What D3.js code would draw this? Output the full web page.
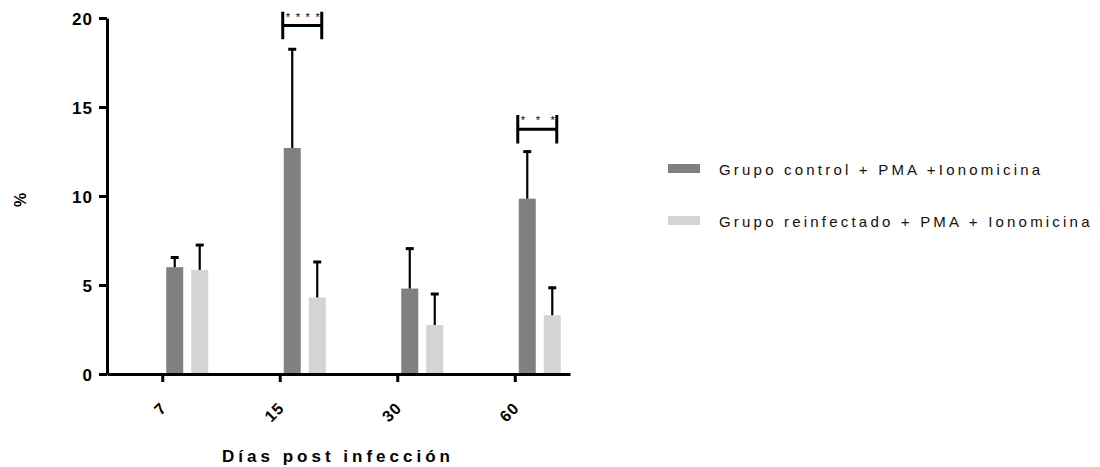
<!DOCTYPE html>
<meta charset="utf-8">
<style>
  body { margin: 0; background: #fff; }
  text { font-family: "Liberation Sans", Arial, sans-serif; }
</style>
<script src="https://d3js.org/d3.v7.min.js"></script>
<div id="chart"></div>
<script>
  // data
  var days = ["7", "15", "30", "60"];
  var series = ["Grupo control + PMA +Ionomicina", "Grupo reinfectado + PMA + Ionomicina"];
  var controlMean = [6.0, 12.7, 4.8, 9.85];
  var controlErr  = [0.6, 5.6, 2.3, 2.7];
  var reinfMean   = [5.85, 4.3, 2.75, 3.3];
  var reinfErr    = [1.45, 2.05, 1.8, 1.6];
  var yTicks = [0, 5, 10, 15, 20];
  // significance brackets
  var sigDays = ["15", "60"];
  var sigStars = ["****", "***"];
  var sigTop = [20.35, 14.55];
  var sigBottom = [18.8, 12.95];

  var colors = ["#808080", "#d4d4d4"];
  var width = 1100, height = 467;

  var svg = d3.select("#chart").append("svg")
    .attr("width", width)
    .attr("height", height);

  var x = d3.scalePoint()
    .domain(days)
    .range([107, 570])
    .padding(0.47);

  var y = d3.scaleLinear()
    .domain([0, 20])
    .range([374, 18]);

  var barW = 17, off = [4, 29];

  var rows = days.map(function(d, i) {
    return { day: d, vals: [controlMean[i], reinfMean[i]], errs: [controlErr[i], reinfErr[i]] };
  });

  var groups = svg.selectAll(".grp")
    .data(rows)
    .enter().append("g")
      .attr("class", "grp");

  groups.each(function(r) {
    var g = d3.select(this);
    r.vals.forEach(function(v, k) {
      var x0 = x(r.day) + off[k];
      var cx = x0 + barW / 2;
      g.append("rect")
        .attr("x", x0)
        .attr("y", y(v))
        .attr("width", barW)
        .attr("height", y(0) - y(v))
        .attr("fill", colors[k]);
      // error bar (upper only)
      g.append("line")
        .attr("x1", cx).attr("x2", cx)
        .attr("y1", y(v)).attr("y2", y(v + r.errs[k]))
        .attr("stroke", "#000").attr("stroke-width", 2.2);
      g.append("line")
        .attr("x1", cx - 4).attr("x2", cx + 4)
        .attr("y1", y(v + r.errs[k]) + 1).attr("y2", y(v + r.errs[k]) + 1)
        .attr("stroke", "#000").attr("stroke-width", 3);
    });
  });

  // y axis
  var yAxis = svg.append("g")
    .attr("transform", "translate(107,0)")
    .call(d3.axisLeft(y).tickValues(yTicks).tickSize(8).tickSizeOuter(0));
  yAxis.select(".domain").attr("stroke-width", 3);
  yAxis.selectAll(".tick line").attr("stroke-width", 3);
  yAxis.selectAll(".tick text")
    .attr("x", -14)
    .attr("dy", "0.36em")
    .style("font-family", "'Liberation Sans', Arial, sans-serif")
    .style("font-size", "17px").style("font-weight", "bold").style("letter-spacing", "1px");

  // x axis
  var xAxis = svg.append("g")
    .attr("transform", "translate(0,374)")
    .call(d3.axisBottom(x).tickSize(8).tickSizeOuter(0));
  xAxis.select(".domain").attr("stroke-width", 3);
  xAxis.selectAll(".tick line").attr("stroke-width", 3);
  xAxis.selectAll(".tick text")
    .attr("y", 0).attr("dy", 0)
    .attr("text-anchor", "end")
    .attr("transform", "translate(5,35) rotate(-45)")
    .style("font-family", "'Liberation Sans', Arial, sans-serif")
    .style("font-size", "16px").style("font-weight", "bold").style("letter-spacing", "1px");

  // axis titles
  svg.append("text")
    .attr("x", 338).attr("y", 462)
    .attr("text-anchor", "middle")
    .style("font-size", "17px").style("font-weight", "bold").style("letter-spacing", "4px")
    .text("Días post infección");

  svg.append("text")
    .attr("transform", "translate(26,200) rotate(-90)")
    .attr("text-anchor", "middle")
    .style("font-size", "16px").style("font-weight", "bold")
    .text("%");

  // significance brackets
  sigDays.forEach(function(d, i) {
    var xa = x(d) + 3, xb = x(d) + 42;
    var yt = y(sigTop[i]), yb = y(sigBottom[i]);
    var ym = yt + (yb - yt) * 0.5;
    svg.append("path")
      .attr("d", "M" + xa + "," + yt + "V" + yb + "M" + xa + "," + ym + "H" + xb + "M" + xb + "," + yt + "V" + yb)
      .attr("fill", "none").attr("stroke", "#000").attr("stroke-width", 3);
    svg.append("text")
      .attr("x", xa + 3).attr("y", yt + 9)
      .attr("textLength", xb - xa - 5)
      .attr("lengthAdjust", "spacing")
      .style("font-size", "11px")
      .text(sigStars[i]);
  });

  // legend
  var leg = svg.selectAll(".lg")
    .data(series)
    .enter().append("g")
      .attr("transform", function(d, i) { return "translate(668," + (164 + i * 52) + ")"; });
  leg.append("rect")
    .attr("width", 32).attr("height", 9)
    .attr("fill", function(d, i) { return colors[i]; });
  leg.append("text")
    .attr("x", 51).attr("y", 11)
    .style("font-size", "15px").style("letter-spacing", "3.2px").style("fill", "#111")
    .text(function(d) { return d; });
</script>
